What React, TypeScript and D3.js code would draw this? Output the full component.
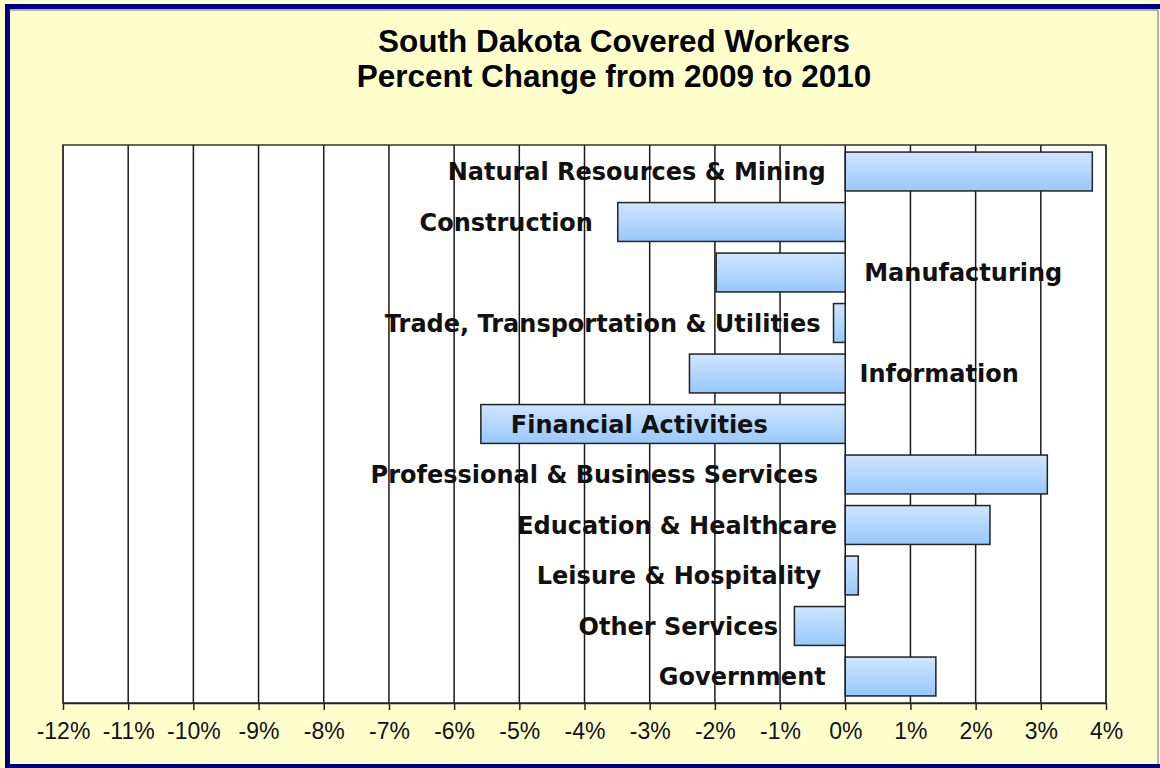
import React, { useEffect, useRef } from 'react';
import * as d3 from 'd3';

const W = 1160;
const H = 768;

const categories = [
  'Natural Resources & Mining',
  'Construction',
  'Manufacturing',
  'Trade, Transportation & Utilities',
  'Information',
  'Financial Activities',
  'Professional & Business Services',
  'Education & Healthcare',
  'Leisure & Hospitality',
  'Other Services',
  'Government',
];

// percent change 2009 -> 2010
const pctChange = [3.79, -3.49, -1.98, -0.18, -2.39, -5.59, 3.1, 2.22, 0.2, -0.78, 1.39];

// where each category label sits (centre, in % units of the x axis)
const labelAt = [-3.2, -5.2, 1.81, -3.72, 1.44, -3.16, -3.85, -2.58, -2.55, -2.56, -1.58];

const xTicks = d3.range(-12, 5, 1);

const titleLines = ['South Dakota Covered Workers', 'Percent Change from 2009 to 2010'];

export default function App() {
  const ref = useRef<SVGSVGElement>(null);

  useEffect(() => {
    const svg = d3.select(ref.current);
    svg.selectAll('*').remove();

    const left = 63, right = 1106, top = 145, bottom = 703;

    const x = d3.scaleLinear().domain([-12, 4]).range([left, right]);
    const y = d3.scaleBand().domain(categories).range([top, bottom]).paddingInner(0.23).paddingOuter(0.14);

    const defs = svg.append('defs');
    const grad = defs.append('linearGradient')
      .attr('id', 'barGrad')
      .attr('x1', 0).attr('y1', 0).attr('x2', 0).attr('y2', 1);
    grad.append('stop').attr('offset', '0%').attr('stop-color', '#cfe5ff');
    grad.append('stop').attr('offset', '100%').attr('stop-color', '#98c8fb');

    // background + frame
    svg.append('rect')
      .attr('x', 0).attr('y', 0).attr('width', W).attr('height', H)
      .attr('fill', '#ffffcc');
    svg.append('line')
      .attr('x1', 10).attr('y1', 10).attr('x2', 1158).attr('y2', 10)
      .attr('stroke', '#9a9a9a').attr('stroke-width', 1.5);
    svg.append('line')
      .attr('x1', 1158).attr('y1', 10).attr('x2', 1158).attr('y2', 764)
      .attr('stroke', '#9a9a9a').attr('stroke-width', 1.5);
    svg.append('rect')
      .attr('x', 7.5).attr('y', 6.5).attr('width', 1170).attr('height', 760)
      .attr('fill', 'none')
      .attr('stroke', '#000080')
      .attr('stroke-width', 5);

    // title
    svg.selectAll('text.title')
      .data(titleLines)
      .enter()
      .append('text')
      .attr('class', 'title')
      .attr('x', 614)
      .attr('y', (d, i) => 52 + i * 35)
      .attr('text-anchor', 'middle')
      .attr('font-family', '"Liberation Sans", Arial, sans-serif')
      .attr('font-weight', 'bold')
      .attr('font-size', 31.5)
      .attr('fill', '#000')
      .text(d => d);

    // plot area
    svg.append('rect')
      .attr('x', left).attr('y', top)
      .attr('width', right - left).attr('height', bottom - top)
      .attr('fill', '#ffffff');

    // grid lines
    svg.selectAll('line.grid')
      .data(xTicks)
      .enter()
      .append('line')
      .attr('class', 'grid')
      .attr('x1', d => x(d)).attr('x2', d => x(d))
      .attr('y1', top).attr('y2', bottom)
      .attr('stroke', '#1a1a1a')
      .attr('stroke-width', 1.5);

    svg.append('rect')
      .attr('x', left).attr('y', top)
      .attr('width', right - left).attr('height', bottom - top)
      .attr('fill', 'none')
      .attr('stroke', '#333')
      .attr('stroke-width', 1.5);

    // bars
    svg.selectAll('rect.bar')
      .data(pctChange)
      .enter()
      .append('rect')
      .attr('class', 'bar')
      .attr('x', d => x(Math.min(0, d)))
      .attr('y', (d, i) => y(categories[i]) as number)
      .attr('width', d => Math.abs(x(d) - x(0)))
      .attr('height', y.bandwidth())
      .attr('fill', 'url(#barGrad)')
      .attr('stroke', '#222')
      .attr('stroke-width', 1.5);

    // x axis
    const axis = svg.append('g')
      .attr('transform', `translate(0,${bottom})`)
      .call(d3.axisBottom(x).tickValues(xTicks).tickSize(7).tickSizeOuter(0).tickPadding(13).tickFormat(d => `${d}%`));
    axis.select('.domain').attr('stroke', '#222').attr('stroke-width', 1.5);
    axis.selectAll('.tick line').attr('stroke', '#222').attr('stroke-width', 1.5);
    axis.selectAll('.tick text')
      .attr('font-family', '"Liberation Sans", Arial, sans-serif')
      .attr('font-size', 23)
      .attr('fill', '#111');

    // category labels
    svg.selectAll('text.cat')
      .data(categories)
      .enter()
      .append('text')
      .attr('class', 'cat')
      .attr('x', (d, i) => x(labelAt[i]))
      .attr('y', d => (y(d) as number) + y.bandwidth() / 2)
      .attr('dy', '0.36em')
      .attr('text-anchor', 'middle')
      .attr('font-family', '"DejaVu Sans", Verdana, sans-serif')
      .attr('font-weight', 'bold')
      .attr('font-size', 24)
      .attr('fill', '#111')
      .text(d => d);
  }, []);

  return (
    <svg ref={ref} width={W} height={H} style={{ position: 'absolute', left: 0, top: 0 }} />
  );
}
